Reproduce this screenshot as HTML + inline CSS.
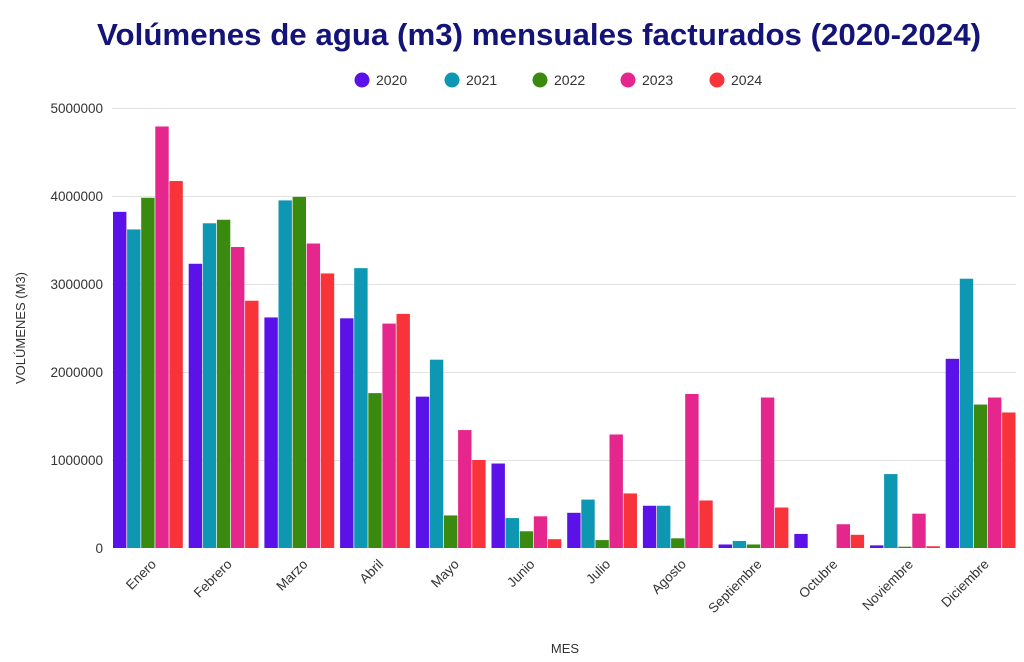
<!DOCTYPE html>
<html><head><meta charset="utf-8"><style>body{margin:0;background:#fff}svg{display:block}</style></head><body>
<svg width="1024" height="662" xmlns="http://www.w3.org/2000/svg" font-family="Liberation Sans, sans-serif">
<text x="539" y="45" text-anchor="middle" font-size="31" font-weight="bold" fill="#141478" textLength="884" lengthAdjust="spacingAndGlyphs">Volúmenes de agua (m3) mensuales facturados (2020-2024)</text>
<g font-size="14" fill="#333">
<circle cx="362" cy="80" r="7.5" fill="#5B12E8"/><text x="376" y="85">2020</text>
<circle cx="452" cy="80" r="7.5" fill="#0E97B2"/><text x="466" y="85">2021</text>
<circle cx="540" cy="80" r="7.5" fill="#3A8A10"/><text x="554" y="85">2022</text>
<circle cx="628" cy="80" r="7.5" fill="#E5268C"/><text x="642" y="85">2023</text>
<circle cx="717" cy="80" r="7.5" fill="#F8333A"/><text x="731" y="85">2024</text>
</g>
<g stroke="#e3e3e3" stroke-width="1">
<line x1="112" x2="1016" y1="108.5" y2="108.5"/><line x1="112" x2="1016" y1="196.5" y2="196.5"/><line x1="112" x2="1016" y1="284.5" y2="284.5"/><line x1="112" x2="1016" y1="372.5" y2="372.5"/><line x1="112" x2="1016" y1="460.5" y2="460.5"/>
</g>
<g font-size="13.5" fill="#333" text-anchor="end">
<text x="103" y="113">5000000</text><text x="103" y="201">4000000</text><text x="103" y="289">3000000</text><text x="103" y="377">2000000</text><text x="103" y="465">1000000</text><text x="103" y="553">0</text>
</g>
<text transform="translate(25,328) rotate(-90)" text-anchor="middle" font-size="13" fill="#333">VOLÚMENES (M3)</text>
<text x="565" y="653" text-anchor="middle" font-size="13" fill="#333">MES</text>
<g id="bars"></g>
<g id="xl" font-size="13.5" fill="#333" text-anchor="end"></g>
<script>
var d=[[3820000,3620000,3980000,4790000,4170000],[3230000,3690000,3730000,3420000,2810000],[2620000,3950000,3990000,3460000,3120000],[2610000,3180000,1760000,2550000,2660000],[1720000,2140000,370000,1340000,1000000],[960000,340000,190000,360000,100000],[400000,550000,90000,1290000,620000],[480000,480000,110000,1750000,540000],[40000,80000,40000,1710000,460000],[160000,0,0,270000,150000],[30000,840000,15000,390000,20000],[2150000,3060000,1630000,1710000,1540000]];
var c=["#5B12E8","#0E97B2","#3A8A10","#E5268C","#F8333A"];
var m=["Enero","Febrero","Marzo","Abril","Mayo","Junio","Julio","Agosto","Septiembre","Octubre","Noviembre","Diciembre"];
var ns="http://www.w3.org/2000/svg",b=document.getElementById("bars"),xl=document.getElementById("xl");
for(var i=0;i<12;i++){var g0=113+i*75.7;for(var j=0;j<5;j++){var v=d[i][j];if(!v)continue;var h=v/1e6*88;var r=document.createElementNS(ns,"rect");r.setAttribute("x",g0+j*14.1);r.setAttribute("y",548-h);r.setAttribute("width",13.4);r.setAttribute("height",h);r.setAttribute("fill",c[j]);b.appendChild(r);}
var cx=g0+35+9;var t=document.createElementNS(ns,"text");t.setAttribute("transform","translate("+cx+",565) rotate(-45)");t.textContent=m[i];xl.appendChild(t);}
</script>
</svg>
</body></html>
